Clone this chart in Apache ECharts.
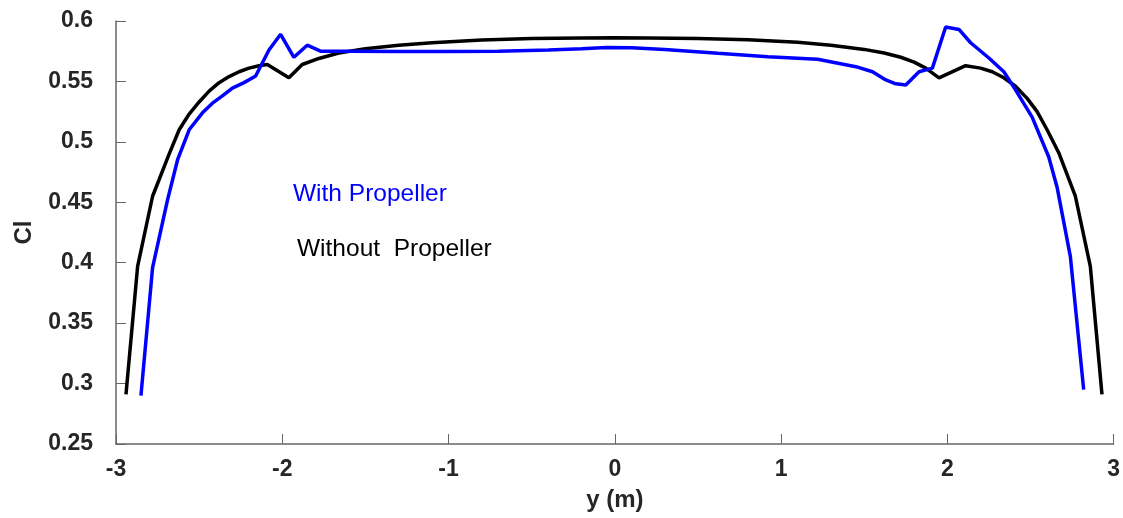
<!DOCTYPE html>
<html>
<head>
<meta charset="utf-8">
<script src="https://cdn.jsdelivr.net/npm/echarts@6/dist/echarts.min.js"></script>
<style>
  html, body { margin: 0; padding: 0; background: #fff; }
  #chart { width: 1123px; height: 518px; }
</style>
</head>
<body>
<div id="chart"></div>
<script>
// Spanwise lift coefficient distribution, without and with propeller slipstream
const yWithout = [-2.94, -2.87, -2.78, -2.68, -2.62, -2.56, -2.50, -2.44, -2.38, -2.32, -2.26, -2.20, -2.14, -2.09,
  -1.96, -1.88, -1.78, -1.66, -1.50, -1.30, -1.10, -0.80, -0.50, -0.20, 0, 0.20, 0.50, 0.80, 1.10, 1.30, 1.50,
  1.62, 1.72, 1.80, 1.87, 1.95, 2.11, 2.20, 2.27, 2.34, 2.41, 2.48, 2.54, 2.60, 2.67, 2.77, 2.86, 2.93];
const clWithout = [0.291, 0.397, 0.455, 0.490, 0.510, 0.523, 0.533, 0.542, 0.549, 0.554, 0.558, 0.561, 0.563, 0.564,
  0.553, 0.564, 0.569, 0.5735, 0.577, 0.580, 0.582, 0.5843, 0.5855, 0.586, 0.5862, 0.586, 0.5855, 0.5845, 0.5825, 0.580, 0.5765,
  0.5735, 0.570, 0.566, 0.561, 0.553, 0.563, 0.561, 0.558, 0.553, 0.546, 0.536, 0.525, 0.510, 0.491, 0.455, 0.397, 0.291];

const yWith = [-2.85, -2.78, -2.69, -2.63, -2.56, -2.48, -2.42, -2.36, -2.30, -2.23, -2.16, -2.08, -2.01, -1.93,
  -1.85, -1.77, -1.60, -1.30, -1.00, -0.70, -0.40, -0.20, -0.05, 0.10, 0.30, 0.62, 0.92, 1.22, 1.45, 1.55, 1.63,
  1.69, 1.75, 1.83, 1.91, 1.99, 2.07, 2.14, 2.25, 2.34, 2.41, 2.51, 2.61, 2.66, 2.74, 2.82];
const clWith = [0.290, 0.396, 0.452, 0.485, 0.510, 0.524, 0.532, 0.538, 0.5445, 0.549, 0.5545, 0.576, 0.589, 0.570,
  0.580, 0.575, 0.575, 0.5748, 0.5748, 0.575, 0.576, 0.577, 0.578, 0.5778, 0.5765, 0.5733, 0.5705, 0.5683, 0.5622, 0.558, 0.5512,
  0.548, 0.547, 0.558, 0.561, 0.595, 0.593, 0.582, 0.5694, 0.558, 0.543, 0.5205, 0.4875, 0.4625, 0.405, 0.295];

const xTicks = [-3, -2, -1, 0, 1, 2, 3];
const yTicks = [0.25, 0.3, 0.35, 0.4, 0.45, 0.5, 0.55, 0.6];

const pairs = (xs, ys) => xs.map((x, i) => [x, ys[i]]);

const axisColor = '#666666';
const textColor = '#262626';
const font = 'Liberation Sans, Arial, Helvetica, sans-serif';

const chart = echarts.init(document.getElementById('chart'), null, { renderer: 'canvas' });
chart.setOption({
  animation: false,
  backgroundColor: '#ffffff',
  grid: { left: 116, right: 5, top: 21, bottom: 74, containLabel: false },
  xAxis: {
    type: 'value',
    min: xTicks[0], max: xTicks[xTicks.length - 1], interval: 1,
    name: 'y (m)', nameLocation: 'middle', nameGap: 44,
    nameTextStyle: { color: textColor, fontSize: 24, fontWeight: 'bold', fontFamily: font },
    axisLine: { onZero: false, lineStyle: { color: axisColor, width: 1.5 } },
    axisTick: { inside: true, length: 10, lineStyle: { color: axisColor, width: 1 } },
    axisLabel: { margin: 14, color: textColor, fontSize: 23, fontWeight: 'bold', fontFamily: font,
      formatter: v => String(v) },
    splitLine: { show: false }
  },
  yAxis: {
    type: 'value',
    min: yTicks[0], max: yTicks[yTicks.length - 1], interval: 0.05,
    name: 'Cl', nameLocation: 'middle', nameGap: 80, nameRotate: 90,
    nameTextStyle: { color: textColor, fontSize: 24, fontWeight: 'bold', fontFamily: font },
    axisLine: { onZero: false, lineStyle: { color: axisColor, width: 1.5 } },
    axisTick: { inside: true, length: 10, lineStyle: { color: axisColor, width: 1 } },
    axisLabel: { margin: 23, color: textColor, fontSize: 23, fontWeight: 'bold', fontFamily: font,
      formatter: v => String(parseFloat(v.toFixed(2))) },
    splitLine: { show: false }
  },
  series: [
    {
      name: 'Without Propeller', type: 'line', data: pairs(yWithout, clWithout),
      showSymbol: false, smooth: false, clip: false,
      lineStyle: { color: '#000000', width: 3.5 }, z: 2
    },
    {
      name: 'With Propeller', type: 'line', data: pairs(yWith, clWith),
      showSymbol: false, smooth: false, clip: false,
      lineStyle: { color: '#0000ff', width: 3.5 }, z: 3
    }
  ],
  graphic: [
    { type: 'text', left: 293, top: 182,
      style: { text: 'With Propeller', fill: '#0000ff', fontSize: 24.5, fontFamily: font } },
    { type: 'text', left: 297, top: 237,
      style: { text: 'Without  Propeller', fill: '#000000', fontSize: 24.5, fontFamily: font } }
  ]
});
</script>
</body>
</html>
